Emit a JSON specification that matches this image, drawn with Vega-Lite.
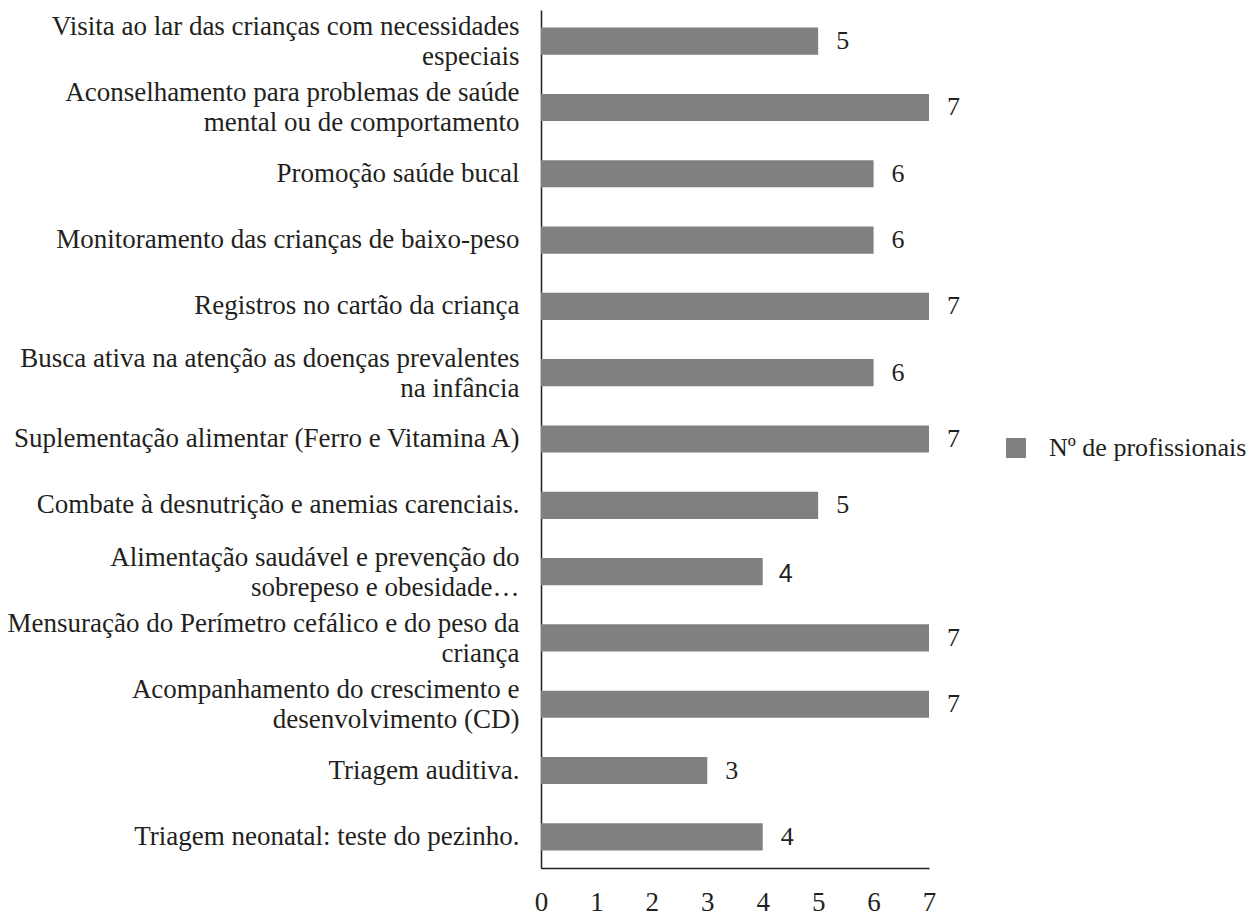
{
  "$schema": "https://vega.github.io/schema/vega-lite/v6.json",
  "autosize": {"type": "none"},
  "padding": {"left": 541, "top": 10, "right": 330, "bottom": 49},
  "width": 388,
  "height": 858,
  "background": "white",
  "config": {
    "view": {"stroke": null},
    "font": "Liberation Serif",
    "axis": {"grid": false, "ticks": false, "domainColor": "#231f20", "domainWidth": 1.5, "labelColor": "#231f20", "labelFont": "Liberation Serif", "titleFont": "Liberation Serif"},
    "legend": {"labelFont": "Liberation Serif"}
  },
  "data": {
    "values": [
      {"category": "Visita ao lar das crianças com necessidades\nespeciais", "value": 5},
      {"category": "Aconselhamento para problemas de saúde\nmental ou de comportamento", "value": 7},
      {"category": "Promoção saúde bucal", "value": 6},
      {"category": "Monitoramento das crianças de baixo-peso", "value": 6},
      {"category": "Registros no cartão da criança", "value": 7},
      {"category": "Busca ativa na atenção as doenças prevalentes\nna infância", "value": 6},
      {"category": "Suplementação alimentar (Ferro e Vitamina A)", "value": 7},
      {"category": "Combate à desnutrição e anemias carenciais.", "value": 5},
      {"category": "Alimentação saudável e prevenção do\nsobrepeso e obesidade…", "value": 4},
      {"category": "Mensuração do Perímetro cefálico e do peso da\ncriança", "value": 7},
      {"category": "Acompanhamento do crescimento e\ndesenvolvimento (CD)", "value": 7},
      {"category": "Triagem auditiva.", "value": 3},
      {"category": "Triagem neonatal: teste do pezinho.", "value": 4}
    ]
  },
  "encoding": {
    "y": {
      "field": "category", "type": "nominal", "sort": null,
      "scale": {"paddingInner": 0.59, "paddingOuter": 0.265},
      "axis": {
        "title": null,
        "labelExpr": "split(datum.label, '\\n')",
        "labelFontSize": 27,
        "labelLineHeight": 30,
        "labelPadding": 22,
        "labelLimit": 0,
        "labelAlign": "right",
        "labelBaseline": "middle",
        "labelOffset": {"condition": {"test": "indexof(datum.value, '\\n') >= 0", "value": -14}, "value": 0}
      }
    },
    "x": {
      "field": "value", "type": "quantitative",
      "scale": {"domain": [0, 7], "nice": false},
      "axis": {"title": null, "values": [0, 1, 2, 3, 4, 5, 6, 7], "labelFontSize": 27, "labelPadding": 21, "labelFlush": false}
    }
  },
  "layer": [
    {
      "mark": {"type": "bar"},
      "encoding": {
        "color": {
          "datum": "Nº de profissionais",
          "scale": {"range": ["#808083"]},
          "legend": {
            "title": null,
            "orient": "none",
            "legendX": 462,
            "legendY": 425,
            "symbolType": "square",
            "symbolSize": 400,
            "symbolStrokeWidth": 0,
            "labelFontSize": 26,
            "labelColor": "#231f20",
            "labelOffset": 20,
            "labelLimit": 0
          }
        }
      }
    },
    {
      "transform": [{"filter": "indexof(datum.category, 'Alimenta') < 0"}],
      "mark": {"type": "text", "align": "left", "baseline": "middle", "dx": 18, "fontSize": 26, "font": "Liberation Serif", "color": "#231f20"},
      "encoding": {"text": {"field": "value", "type": "quantitative"}}
    },
    {
      "transform": [{"filter": "indexof(datum.category, 'Alimenta') >= 0"}],
      "mark": {"type": "text", "align": "left", "baseline": "middle", "dx": 16, "dy": 2, "fontSize": 25, "font": "Liberation Sans", "color": "#231f20"},
      "encoding": {"text": {"field": "value", "type": "quantitative"}}
    }
  ]
}
